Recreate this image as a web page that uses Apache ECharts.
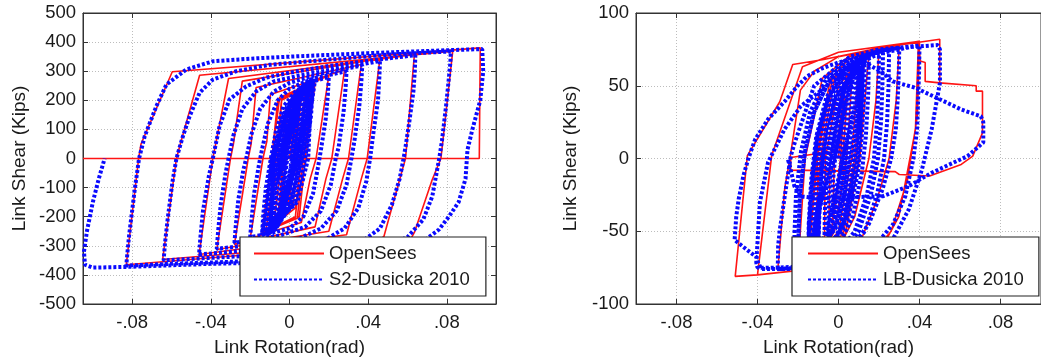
<!DOCTYPE html>
<html>
<head>
<meta charset="utf-8">
<script src="https://cdn.jsdelivr.net/npm/echarts@6/dist/echarts.min.js"></script>
<style>
  html, body { margin: 0; padding: 0; background: #fff; }
  #chart { width: 1041px; height: 362px; }
</style>
</head>
<body>
<div id="chart"></div>
<script>
// axis ticks
const xTickValues = [-0.08, -0.04, 0, 0.04, 0.08];
const xTickLabels = ['-.08', '-.04', '0', '.04', '.08'];

// left panel: S2 link, [rotation (rad), shear (kips)]
const openSeesS2 = [
  [0,0],[0.002,100],[0.004,150],
  [0.002,20],[0,-80],[-0.004,-150],
  [-0.002,-20],[0,90],[0.005,185],
  [0.003,0],[0,-110],[-0.005,-185],
  [-0.003,0],[0,130],[0.006,210],
  [0.003,0],[0,-140],[-0.006,-205],
  [-0.003,0],[-0.001,150],[0.008,230],
  [0.004,0],[0.002,-150],[-0.008,-225],
  [-0.004,0],[-0.002,170],[0.010,245],
  [0.006,0],[0.003,-170],[-0.010,-240],
  [-0.006,0],[-0.004,200],[0.013,260],
  [0.008,0],[0.005,-200],[-0.014,-255],
  [-0.009,0],[-0.006,200],[0.011,255],
  [0.006,0],[0.003,-200],[-0.012,-250],
  [-0.007,0],[-0.004,205],[0.012,258],
  [0.007,0],[0.004,-205],[-0.014,-255],
  [-0.009,0],[-0.005,210],[0.020,285],
  [0.0135,0],[0.0105,-70],[0.006,-220],[-0.020,-275],
  [-0.0135,0],[-0.0115,60],[-0.0097,220],[0.028,305],
  [0.0215,0],[0.0185,-70],[0.013,-235],[-0.028,-295],
  [-0.021,0],[-0.0195,50],[-0.017,244],[0.0365,323],
  [0.030,0],[0.027,-70],[0.020,-250],[-0.037,-313],
  [-0.030,0],[-0.0285,50],[-0.024,266],[0.046,343],
  [0.0395,0],[0.0365,-70],[0.029,-262],[-0.046,-330],
  [-0.039,0],[-0.0375,50],[-0.031,275],[0.0635,357],
  [0.059,0],[0.056,-72],[0.048,-268],[0.045,-285],[-0.0645,-347],
  [-0.0575,0],[-0.0555,50],[-0.0457,286],[0.083,369],
  [0.077,0],[0.0726,-72],[0.0635,-254],[0.061,-285],[-0.083,-365],
  [-0.0767,0],[-0.0755,50],[-0.0596,298],[0.097,380],
  [0.0965,0],[-0.105,0]
];

const dusickaS2 = [
  [0,0],[0.002,100],[0.0035,150],[0.004,170],
  [0.003,100],[0,-60],[-0.002,-120],[-0.0035,-160],[-0.004,-170],
  [-0.003,-100],[0,60],[0.003,150],[0.0045,190],[0.005,200],
  [0.004,130],[0.001,-50],[-0.003,-150],[-0.0045,-190],[-0.005,-200],
  [-0.004,-130],[-0.001,40],[0.003,160],[0.006,210],[0.007,225],
  [0.0055,150],[0.002,-30],[-0.003,-160],[-0.006,-210],[-0.007,-220],
  [-0.0055,-150],[-0.002,30],[0.003,170],[0.007,230],[0.009,245],
  [0.0075,170],[0.003,-20],[-0.003,-170],[-0.007,-228],[-0.009,-240],
  [-0.0075,-170],[-0.004,10],[0.002,170],[0.008,240],[0.011,260],
  [0.0095,190],[0.005,0],[-0.002,-170],[-0.008,-240],[-0.011,-255],
  [-0.0095,-190],[-0.006,0],[0.001,170],[0.008,245],[0.013,270],
  [0.0115,200],[0.007,20],[0,-170],[-0.008,-245],[-0.014,-262],
  [-0.0125,-190],[-0.009,0],[-0.002,170],[0.005,240],[0.010,262],
  [0.0085,190],[0.004,0],[-0.003,-175],[-0.008,-240],[-0.012,-258],
  [-0.0105,-185],[-0.007,0],[0,175],[0.006,245],[0.011,268],
  [0.0095,195],[0.0055,10],[-0.001,-170],[-0.007,-243],[-0.010,-255],
  [-0.0085,-180],[-0.0055,0],[0.001,175],[0.007,250],[0.012,272],
  [0.0105,200],[0.0065,15],[0,-172],[-0.008,-248],[-0.013,-262],
  [-0.0115,-190],[-0.008,0],[-0.001,172],[0.006,245],[0.009,258],
  [0.0075,185],[0.0035,0],[-0.003,-175],[-0.009,-250],[-0.014,-262],
  [-0.0105,-150],[-0.002,0],[0.004,150],[0.011,268],
  [0.0095,150],[0.002,0],[-0.004,-150],[-0.011,-258],
  [-0.0095,-150],[-0.004,0],[0.002,150],[0.010,265],
  [0.0085,150],[0.004,0],[-0.002,-150],[-0.012,-260],
  [-0.0105,-150],[-0.006,0],[0,150],[0.009,262],
  [0.0095,150],[0.006,0],[0.001,-150],[-0.010,-256],
  [-0.009,-150],[-0.008,0],[-0.002,150],[0.012,270],
  [0.011,150],[0.008,0],[0.003,-150],[-0.012,-260],
  [-0.011,-150],[-0.009,0],[-0.003,150],[0.011,268],
  [0.0105,150],[0.0095,0],[0.004,-150],[-0.014,-262],
  [-0.0133,-190],[-0.012,-100],[-0.0095,0],[-0.007,90],[-0.003,180],[0.003,230],[0.012,265],[0.020,280],
  [0.0195,220],[0.0185,140],[0.016,30],[0.0145,-30],[0.012,-120],[0.007,-200],[0,-240],[-0.01,-258],[-0.020,-270],
  [-0.0193,-210],[-0.018,-120],[-0.0155,-20],[-0.014,30],[-0.011,120],[-0.006,200],[0,240],[0.012,275],[0.029,300],
  [0.0285,240],[0.0275,160],[0.025,40],[0.0235,0],[0.021,-90],[0.016,-180],[0.008,-235],[-0.005,-265],[-0.028,-290],
  [-0.0273,-230],[-0.026,-140],[-0.0235,-40],[-0.022,0],[-0.0195,80],[-0.015,170],[-0.008,230],[0,260],[0.015,290],[0.037,320],
  [0.0365,260],[0.0355,180],[0.033,60],[0.0315,0],[0.029,-90],[0.024,-180],[0.016,-240],[0.005,-275],[-0.015,-295],[-0.037,-310],
  [-0.0363,-250],[-0.035,-160],[-0.0325,-50],[-0.031,0],[-0.0285,80],[-0.024,170],[-0.017,230],[-0.008,265],[0.005,285],[0.025,310],[0.046,335],
  [0.0457,280],[0.045,200],[0.0425,80],[0.041,0],[0.039,-80],[0.035,-170],[0.028,-240],[0.018,-280],[0,-305],[-0.025,-318],[-0.046,-330],
  [-0.0453,-270],[-0.044,-180],[-0.041,-60],[-0.039,0],[-0.0356,111],[-0.0305,203],[-0.022,248],[-0.0118,278],[0,295],[0.02,318],[0.045,340],[0.064,355],
  [0.0637,300],[0.063,230],[0.061,130],[0.059,40],[0.058,0],[0.056,-70],[0.052,-160],[0.046,-240],[0.037,-285],[0.02,-315],[0,-325],[-0.03,-338],[-0.064,-350],
  [-0.0633,-290],[-0.0618,-200],[-0.0595,-80],[-0.0575,0],[-0.0545,70],[-0.0508,145],[-0.0457,226],[-0.039,271],[-0.027,300],[-0.01,322],[0.02,340],[0.05,357],[0.082,368],
  [0.0818,330],[0.0808,260],[0.0796,180],[0.0775,60],[0.0762,3],[0.0745,-60],[0.0726,-130],[0.068,-210],[0.06,-270],[0.048,-305],[0.03,-330],[0,-345],[-0.03,-355],[-0.06,-362],[-0.083,-368],
  [-0.0825,-330],[-0.0816,-267],[-0.0787,-107],[-0.0765,0],[-0.0736,77],[-0.0677,180],[-0.0626,254],[-0.0525,306],[-0.039,334],[-0.02,343],[0,350],[0.04,362],[0.08,372],[0.098,376],
  [0.0985,300],[0.097,200],[0.093,100],[0.0905,30],[0.0895,-70],[0.086,-150],[0.081,-200],[0.076,-244],[0.068,-285],[0.055,-320],[0.03,-345],[0,-355],[-0.04,-362],[-0.08,-372],[-0.1,-375],
  [-0.104,-365],[-0.1045,-320],[-0.103,-250],[-0.1,-150],[-0.097,-70],[-0.094,0]
];

// right panel: LB link
const openSeesLB = [
  [0,0],[0.002,35],[0.003,45],
  [0.001,0],[-0.002,-35],[-0.003,-45],
  [-0.002,0],[0.003,45],[0.005,55],
  [0.002,0],[-0.003,-45],[-0.005,-55],
  [-0.004,0],[0.002,50],[0.007,62],
  [0.004,0],[-0.002,-50],[-0.007,-62],
  [-0.0065,0],[0,50],[0.010,67],
  [0.0065,0],[0,-50],[-0.010,-67],
  [-0.0105,0],[-0.003,55],[0.015,72],
  [0.0105,0],[0.003,-55],[-0.015,-72],
  [-0.0105,0],[-0.003,55],[0.013,71],
  [0.009,0],[0.002,-55],[-0.013,-71],
  [-0.009,0],[-0.002,55],[0.012,70],
  [0.008,0],[0.001,-55],[-0.015,-72],
  [-0.011,0],[-0.004,55],[0.005,68],[0.020,75],
  [0.0185,40],[0.015,0],[0.008,-40],[0,-62],[-0.020,-75],
  [-0.0165,0],[-0.008,55],[0.005,70],[0.030,78],
  [0.0285,40],[0.025,0],[0.0186,-30],[0.010,-60],[0,-70],[-0.030,-77],
  [-0.0265,-20],[-0.024,0],[-0.0188,47],[-0.012,60],[0,70],[0.0395,80.6],
  [0.038,20],[0.0298,-40],[0.020,-65],[0,-74],[-0.040,-80],
  [-0.033,2],[-0.0178,63],[0,73],[0.040,80.5],
  [0.039,30],[0.034,-15],[0.026,-50],[0.015,-68],[-0.020,-77],[-0.040,-80],[-0.051,-81],
  [-0.045,2],[-0.029,39],[-0.0226,64.6],[-0.0073,68],[0.020,76],[0.050,82],
  [0.050,52],[0.068,50],[0.068,46.3],[0.0711,46.3],[0.0711,17.6],[0.0663,1.6],[0.0606,-4.1],
  [0.045,-12],[0.030,-11],[0.028,-9],[-0.0236,-8],[-0.0236,0.7],[-0.0057,4.3],[0.003,5]
];
const openSeesLBStep = [[0.0395,80.6],[0.0404,67],[0.0428,66],[0.0428,53],[0.050,52]];

const dusickaLB = [
  [0,0],[0.0015,25],[0.0025,35],[0.003,40],
  [0.0025,15],[0.001,-10],[-0.0015,-30],[-0.003,-40],
  [-0.0027,-15],[-0.001,10],[0.002,35],[0.0045,48],[0.005,50],
  [0.0047,25],[0.0035,0],[0.001,-30],[-0.003,-45],[-0.005,-52],
  [-0.0047,-25],[-0.0035,0],[-0.001,25],[0.003,48],[0.007,58],
  [0.0067,35],[0.0055,5],[0.003,-25],[-0.001,-45],[-0.007,-60],
  [-0.0067,-35],[-0.0055,-5],[-0.003,25],[0.002,48],[0.007,60],[0.010,64],
  [0.0097,40],[0.0085,10],[0.006,-20],[0.002,-45],[-0.004,-60],[-0.010,-66],
  [-0.0097,-40],[-0.0085,-10],[-0.006,20],[-0.001,45],[0.006,62],[0.015,70],
  [0.0147,45],[0.0135,15],[0.0115,-10],[0.007,-40],[0,-60],[-0.008,-68],[-0.015,-72],
  [-0.0145,-45],[-0.013,-15],[-0.0105,15],[-0.005,42],[0.003,60],[0.013,70],
  [0.0127,45],[0.0115,15],[0.0095,-10],[0.005,-40],[-0.002,-60],[-0.009,-68],[-0.013,-71],
  [-0.0127,-45],[-0.0115,-15],[-0.009,15],[-0.004,42],[0.004,60],[0.012,69],
  [0.0117,45],[0.0105,15],[0.0085,-10],[0.004,-40],[-0.003,-60],[-0.010,-68],[-0.015,-72],
  [-0.011,-40],[-0.002,0],[0.004,40],[0.010,68],
  [0.009,40],[0.002,0],[-0.004,-40],[-0.011,-70],
  [-0.010,-40],[-0.004,0],[0.002,40],[0.009,67],
  [0.0085,40],[0.004,0],[-0.002,-40],[-0.012,-71],
  [-0.011,-40],[-0.006,0],[0,40],[0.011,69],
  [0.0105,40],[0.006,0],[0,-40],[-0.010,-69],
  [-0.0095,-40],[-0.008,0],[-0.002,40],[0.012,70],
  [0.0115,40],[0.008,0],[0.002,-40],[-0.013,-71],
  [-0.0115,-40],[-0.0095,0],[-0.003,40],[0.011,69],
  [0.0105,40],[0.0095,0],[0.003,-40],[-0.015,-72],
  [-0.0147,-45],[-0.0135,-15],[-0.011,15],[-0.006,42],[0.002,60],[0.012,70],[0.020,73],
  [0.0197,50],[0.019,25],[0.0175,0],[0.014,-25],[0.008,-50],[0,-65],[-0.010,-72],[-0.020,-75],
  [-0.0197,-50],[-0.019,-25],[-0.0165,5],[-0.012,32],[-0.004,55],[0.008,68],[0.022,74],
  [0.0217,50],[0.021,25],[0.0195,0],[0.016,-25],[0.010,-50],[0.002,-65],[-0.008,-72],[-0.022,-75],
  [-0.0217,-50],[-0.021,-25],[-0.0185,5],[-0.014,32],[-0.006,55],[0.006,68],[0.020,74],[0.025,75],
  [0.0247,50],[0.024,25],[0.0225,0],[0.019,-25],[0.013,-50],[0.005,-65],[-0.006,-72],[-0.020,-75],
  [-0.0197,-50],[-0.019,-25],[-0.0165,5],[-0.012,32],[-0.004,55],[0.008,68],[0.020,74],[0.030,76],
  [0.0298,60],[0.0292,40],[0.0283,20],[0.026,0],[0.0218,-21],[0.015,-45],[0.006,-62],[-0.008,-72],[-0.020,-75],[-0.030,-76],
  [-0.0298,-60],[-0.029,-49],[-0.0236,1.6],[-0.0218,10],[-0.012,50],[0.0056,70],[0.020,75],[0.040,77.5],
  [0.0398,60],[0.0393,40],[0.0388,20],[0.037,0],[0.033,-26],[0.027,-45],[0.018,-60],[0.005,-70],[-0.015,-74],[-0.030,-75],[-0.040,-75],
  [-0.0406,-71.5],[-0.0388,-30],[-0.0348,-2.7],[-0.0267,20],[-0.0186,36],[-0.0057,50],[0.005,62],[0.020,72],[0.035,76.5],[0.049,78],
  [0.0501,75],[0.0501,52],[0.046,20],[0.0412,-7.6],[0.0347,-35],[0.027,-55],[0.015,-68],[0,-74],[-0.020,-76],[-0.038,-76],[-0.0396,-72],[-0.0404,-68],[-0.0513,-56],
  [-0.0505,-40],[-0.0493,-28],[-0.047,-12],[-0.0445,0],[-0.0412,13],[-0.0348,27],[-0.0267,39],[-0.0202,50],[-0.0154,56.6],[-0.008,62],[0,66],[0.0056,68],
  [0.0105,68],[0.0218,59],[0.0267,53],[0.038,48.6],[0.0606,33.7],[0.0703,29],[0.0715,25],[0.0715,11],[0.0637,1.6],
  [0.046,-9.8],[0.0346,-19],[0.0218,-26],[-0.0105,-27.3],[-0.0186,-26],[-0.0218,-19],[-0.024,-5.3],[-0.025,-0.7]
];

const FONT = '"Liberation Sans", Arial, sans-serif';
const TXT = '#1a1a1a';
const FRAME = '#333';
const RED = '#ff1414';
const BLUE = '#0a0aff';

const chart = echarts.init(document.getElementById('chart'), null, { renderer: 'canvas' });

// shared axis pieces
const tickIn = { show: true, inside: true, length: 5, lineStyle: { color: FRAME } };
const gridDots = { show: true, lineStyle: { color: '#bdbdbd', type: [1, 2], width: 1 } };
const lbl = { color: TXT, fontFamily: FONT, fontSize: 18.5 };
const nameLbl = { color: TXT, fontFamily: FONT, fontSize: 19 };

function xMain(gridIndex, min, max) {
  return {
    type: 'value', gridIndex, min, max, position: 'bottom',
    name: 'Link Rotation(rad)', nameLocation: 'middle', nameGap: 34,
    nameTextStyle: nameLbl,
    axisLine: { show: true, onZero: false, lineStyle: { color: FRAME } },
    axisTick: Object.assign({ customValues: xTickValues }, tickIn),
    axisLabel: Object.assign({
      margin: 9,
      customValues: xTickValues,
      formatter: v => xTickLabels[xTickValues.findIndex(t => Math.abs(t - v) < 1e-9)]
    }, lbl),
    splitLine: gridDots
  };
}
function xTop(gridIndex, min, max) {
  return {
    type: 'value', gridIndex, min, max, position: 'top',
    axisLine: { show: true, onZero: false, lineStyle: { color: FRAME } },
    axisTick: Object.assign({ customValues: xTickValues }, tickIn),
    axisLabel: { show: false },
    splitLine: { show: false }
  };
}
function yMain(gridIndex, min, max, interval, gap) {
  return {
    type: 'value', gridIndex, min, max, interval, position: 'left',
    name: 'Link Shear (Kips)', nameLocation: 'middle', nameGap: gap,
    nameTextStyle: nameLbl,
    axisLine: { show: true, onZero: false, lineStyle: { color: FRAME } },
    axisTick: tickIn,
    axisLabel: Object.assign({ margin: 7 }, lbl),
    splitLine: gridDots
  };
}

function line(name, data, xi, yi, isBlue) {
  return {
    type: 'line', name, data, xAxisIndex: xi, yAxisIndex: yi,
    symbol: 'none', clip: true,
    lineStyle: isBlue
      ? { color: BLUE, width: 4, type: [3, 2] }
      : { color: RED, width: 1.6, type: 'solid' },
    itemStyle: { color: isBlue ? BLUE : RED }
  };
}

function legendBox(left, padLeft, padRight, names) {
  return {
    left, top: 237, orient: 'vertical',
    data: names,
    padding: [7, padRight, 7, padLeft],
    itemGap: 7, itemWidth: 70, itemHeight: 14,
    borderColor: '#222', borderWidth: 1.2, backgroundColor: '#fff',
    itemStyle: { opacity: 0 },
    textStyle: { color: TXT, fontFamily: FONT, fontSize: 18.5, lineHeight: 18 },
    selectedMode: false
  };
}

chart.setOption({
  animation: false,
  backgroundColor: '#fff',
  grid: [
    { left: 83, top: 13, width: 413, height: 291, show: true, borderColor: FRAME, borderWidth: 1 },
    { left: 636, top: 13, width: 412, height: 291, show: true, borderColor: FRAME, borderWidth: 1 }
  ],
  xAxis: [
    xMain(0, -0.105, 0.105),
    xTop(0, -0.105, 0.105),
    xMain(1, -0.1, 0.1),
    xTop(1, -0.1, 0.1)
  ],
  yAxis: [
    yMain(0, -500, 500, 100, 54),
    {
      type: 'value', gridIndex: 0, min: -500, max: 500, interval: 100, position: 'right',
      axisLine: { show: true, onZero: false, lineStyle: { color: FRAME } },
      axisTick: tickIn, axisLabel: { show: false }, splitLine: { show: false }
    },
    yMain(1, -100, 100, 50, 56)
  ],
  legend: [
    legendBox(240, 13, 16, ['OpenSees', 'S2-Dusicka 2010']),
    legendBox(792, 15, 15, ['OpenSees', 'LB-Dusicka 2010'])
  ],
  series: [
    line('OpenSees', openSeesS2, 0, 0, false),
    line('S2-Dusicka 2010', dusickaS2, 0, 0, true),
    line('OpenSees', openSeesLB, 2, 2, false),
    line('OpenSees', openSeesLBStep, 2, 2, false),
    line('LB-Dusicka 2010', dusickaLB, 2, 2, true)
  ]
});
</script>
</body>
</html>
